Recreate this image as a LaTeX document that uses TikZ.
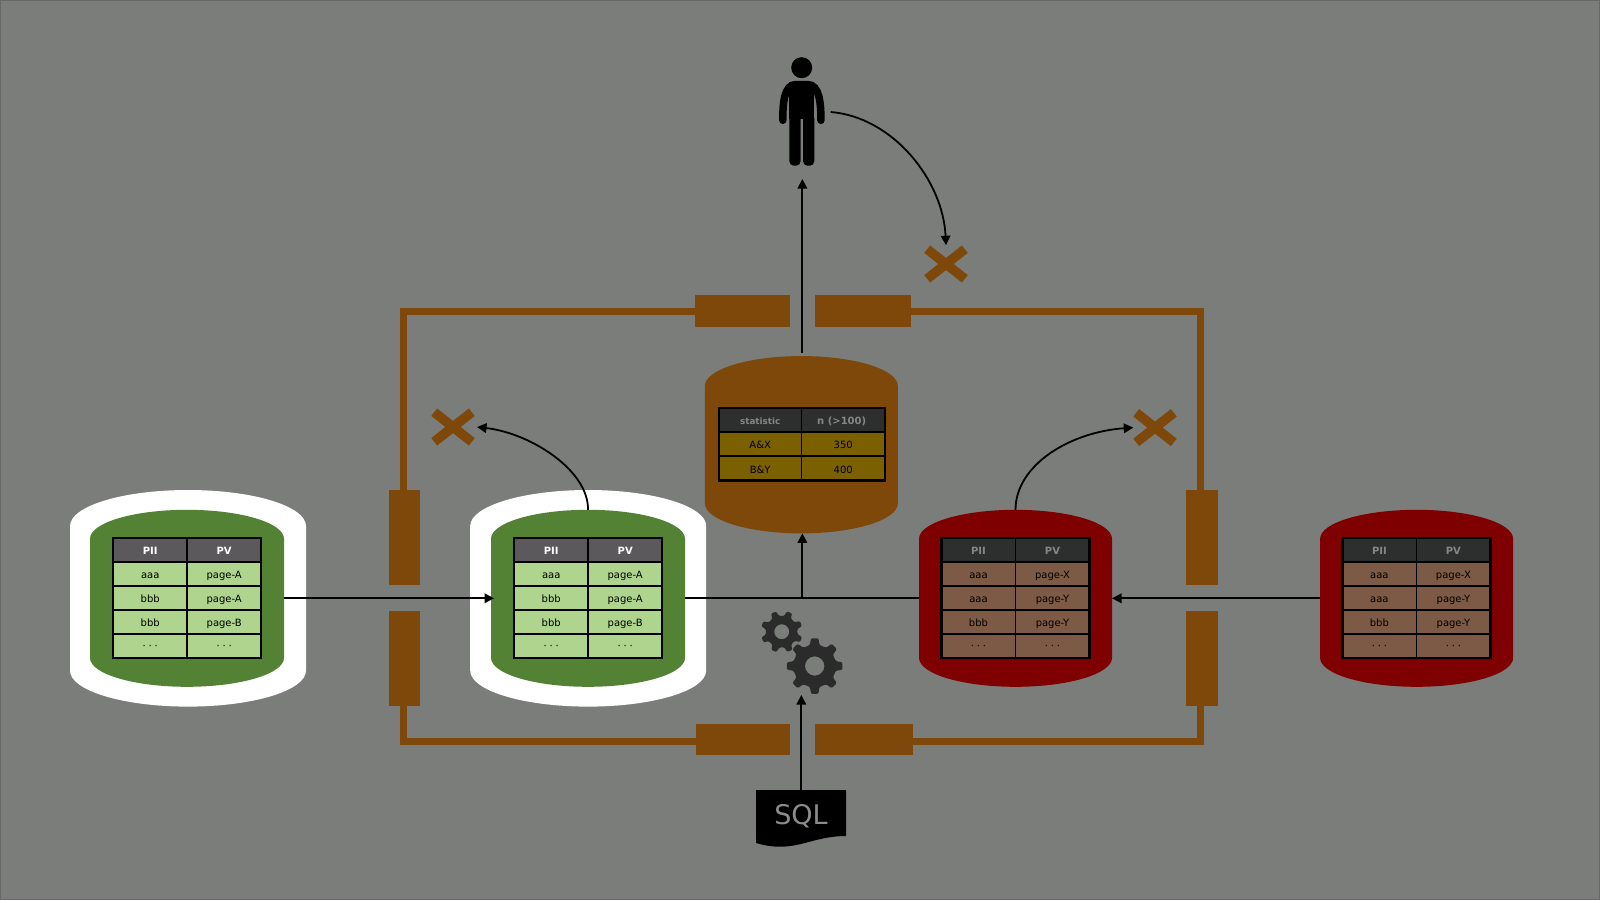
\documentclass[tikz,border=0pt]{standalone}
\usepackage{fontspec}
\setmainfont{DejaVu Sans}
\usetikzlibrary{arrows.meta}
\definecolor{bgc}{HTML}{7B7D7A}
\definecolor{edgec}{HTML}{666865}
\definecolor{brownc}{HTML}{7F480B}
\definecolor{greenc}{HTML}{548235}
\definecolor{redc}{HTML}{7F0000}
\definecolor{rowLc}{HTML}{AED48D}
\definecolor{rowRc}{HTML}{7D5A46}
\definecolor{rowSc}{HTML}{7B6000}
\definecolor{headLc}{HTML}{5B595C}
\definecolor{headDc}{HTML}{2D2F2E}
\definecolor{dimtxt}{HTML}{868686}
\definecolor{gearc}{HTML}{2B2B2B}
\tikzset{
  cellbase/.style={draw=black,line width=1.5pt,inner sep=0pt,outer sep=0pt,align=center,
    minimum width=74pt,minimum height=24pt,text height=9.5pt,text depth=0pt,
    font=\fontsize{10pt}{12pt}\selectfont},
  headL/.style={cellbase,fill=headLc,text=white,font=\fontsize{10pt}{12pt}\selectfont\bfseries},
  headR/.style={cellbase,fill=headDc,text=dimtxt,font=\fontsize{10pt}{12pt}\selectfont\bfseries},
  rowL/.style={cellbase,fill=rowLc,text=black},
  rowR/.style={cellbase,fill=rowRc,text=black},
  rowS/.style={cellbase,fill=rowSc,text=black,minimum width=83pt},
  headS/.style={headR,minimum width=83pt},
  tborder/.style={draw=black,line width=2.3pt},
  barnode/.style={fill=brownc,inner sep=0pt,outer sep=0pt},
  frameline/.style={draw=brownc,line width=7pt,line join=miter},
  crossbox/.style={inner sep=0pt,outer sep=0pt,minimum width=43.4pt,minimum height=37.6pt},
  crossline/.style={draw=brownc,line width=9.5pt},
  arr/.style={draw=black,line width=1.8pt,-{Triangle[length=9.5pt,width=9.5pt]}},
  plainline/.style={draw=black,line width=1.8pt},
  barrelbox/.style={inner sep=0pt,outer sep=0pt},
}
% name, cx, cy, w, h, ry, colour
\newcommand{\barrelshape}[7]{%
  \pgfmathsetmacro\bxl{#2-#4/2}\pgfmathsetmacro\bxr{#2+#4/2}%
  \pgfmathsetmacro\byt{#3-#5/2}\pgfmathsetmacro\byb{#3+#5/2}%
  \pgfmathsetmacro\bya{\byt+#6}\pgfmathsetmacro\byc{\byb-#6}%
  \pgfmathsetmacro\bkx{#4/2*0.5523}\pgfmathsetmacro\bky{#6*0.5523}%
  \fill[#7] (\bxl,\bya) .. controls (\bxl,\bya-\bky) and (#2-\bkx,\byt) .. (#2,\byt)
    .. controls (#2+\bkx,\byt) and (\bxr,\bya-\bky) .. (\bxr,\bya)
    -- (\bxr,\byc) .. controls (\bxr,\byc+\bky) and (#2+\bkx,\byb) .. (#2,\byb)
    .. controls (#2-\bkx,\byb) and (\bxl,\byc+\bky) .. (\bxl,\byc) -- cycle;
  \node[barrelbox,minimum width=#4pt,minimum height=#5pt] (#1) at (#2,#3) {};
}
\newcommand{\dotsrow}{\raisebox{1.3pt}{·\kern2.8pt·\kern2.8pt·}}
% name, cx, style letter, six texts
\newcommand{\dbtable}[9]{%
  \pgfmathsetmacro\tl{#2-37}\pgfmathsetmacro\tr{#2+37}%
  \node[head#3] (#1-h1) at (\tl,550) {PII};
  \node[head#3] (#1-h2) at (\tr,550) {PV};
  \node[row#3] (#1-a1) at (\tl,574) {#4};
  \node[row#3] (#1-a2) at (\tr,574) {#5};
  \node[row#3] (#1-b1) at (\tl,598) {#6};
  \node[row#3] (#1-b2) at (\tr,598) {#7};
  \node[row#3] (#1-c1) at (\tl,622) {#8};
  \node[row#3] (#1-c2) at (\tr,622) {#9};
  \node[row#3] (#1-d1) at (\tl,646) {\dotsrow};
  \node[row#3] (#1-d2) at (\tr,646) {\dotsrow};
  \draw[tborder] (#1-h1.north west) rectangle (#1-d2.south east);
}
% name, cx, cy
\newcommand{\crossmark}[3]{%
  \node[crossbox] (#1) at (#2,#3) {};
  \draw[crossline] ([shift={(-18.8pt,14.8pt)}]#1.center) -- ([shift={(18.8pt,-14.8pt)}]#1.center);
  \draw[crossline] ([shift={(-18.8pt,-14.8pt)}]#1.center) -- ([shift={(18.8pt,14.8pt)}]#1.center);
}
% name, cx, cy, outer, root, hole, rotation
\newcommand{\gearshape}[7]{%
  \begin{scope}[shift={(#2,#3)}]
    \fill[gearc,even odd rule,rounded corners=1.2pt] ({#7-13}:#5)
      \foreach \ga in {0,45,...,315} {
        -- ({#7+\ga-13}:#5) -- ({#7+\ga-7.5}:#4) -- ({#7+\ga+7.5}:#4) -- ({#7+\ga+13}:#5)
      } -- cycle (0,0) circle[radius=#6];
    \node[coordinate] (#1) at (0,0) {};
  \end{scope}
}
\begin{document}
\begin{tikzpicture}[x=1pt,y=-1pt]
\useasboundingbox (0,0) rectangle (1600,900);
\fill[bgc] (0,0) rectangle (1600,900);
\draw[edgec,line width=1pt] (0.5,0.5) rectangle (1599.5,899.5);

% brown guard bars
\node[barnode,minimum width=95pt,minimum height=31.5pt] (barTL) at (742.5,310.75) {};
\node[barnode,minimum width=96pt,minimum height=31.5pt] (barTR) at (863,310.75) {};
\node[barnode,minimum width=94pt,minimum height=31pt] (barBL) at (743,739.5) {};
\node[barnode,minimum width=98pt,minimum height=31pt] (barBR) at (864,739.5) {};
\node[barnode,minimum width=31pt,minimum height=95pt] (barLU) at (404.5,537.5) {};
\node[barnode,minimum width=31pt,minimum height=95pt] (barLD) at (404.5,658.5) {};
\node[barnode,minimum width=32pt,minimum height=95pt] (barRU) at (1202,537.5) {};
\node[barnode,minimum width=32pt,minimum height=95pt] (barRD) at (1202,658.5) {};
\draw[frameline] ([xshift=-1.3pt]barLU.north) |- ([yshift=-1pt]barTL.west);
\draw[frameline] ([xshift=-2pt]barRU.north) |- ([yshift=-1pt]barTR.east);
\draw[frameline] ([xshift=-1.3pt]barLD.south) |- ([yshift=-1.5pt]barBL.west);
\draw[frameline] ([xshift=-2pt]barRD.south) |- ([yshift=-1.5pt]barBR.east);

% databases
\barrelshape{w1}{188}{598.3}{236}{216.6}{36}{white}
\barrelshape{g1}{187}{598.3}{194}{177}{29}{greenc}
\barrelshape{w2}{588.2}{598.3}{236}{216.6}{36}{white}
\barrelshape{g2}{588}{598.3}{194}{177}{29}{greenc}
\barrelshape{r1}{1015.5}{598.3}{193}{177}{29}{redc}
\barrelshape{r2}{1416.6}{598.3}{193}{177}{29}{redc}
\barrelshape{stat}{801.35}{444.7}{193}{177.3}{30}{brownc}

\dbtable{t1}{187.2}{L}{aaa}{page-A}{bbb}{page-A}{bbb}{page-B}
\dbtable{t2}{588.2}{L}{aaa}{page-A}{bbb}{page-A}{bbb}{page-B}
\dbtable{t3}{1015.5}{R}{aaa}{page-X}{aaa}{page-Y}{bbb}{page-Y}
\dbtable{t4}{1416.4}{R}{aaa}{page-X}{aaa}{page-Y}{bbb}{page-Y}

% statistics table
\node[headS,font=\fontsize{8.8pt}{12pt}\selectfont\bfseries] (s-h1) at (760.2,420) {statistic};
\node[headS] (s-h2) at (843.2,420) {\kern-3pt n (>100)};
\node[rowS] (s-a1) at (760.2,444) {A\&X};
\node[rowS] (s-a2) at (843.2,444) {350};
\node[rowS] (s-b1) at (760.2,468.5) {B\&Y};
\node[rowS] (s-b2) at (843.2,468.5) {400};
\draw[tborder] (s-h1.north west) rectangle (s-b2.south east);

% crosses
\crossmark{x1}{946}{264}
\crossmark{x2}{453}{427}
\crossmark{x3}{1155}{427.6}

% person
\begin{scope}
  \fill[black] (801.7,67.7) circle[radius=10.5];
  \draw[black,line width=7.5pt,line cap=round] (782.8,120.3) .. controls (782.8,105) and (783.5,84.5) .. (796,84.5) -- (807.5,84.5) .. controls (820,84.5) and (820.9,105) .. (820.9,120.3);
  \fill[black] (789.3,82) rectangle (814.3,119);
  \fill[black,rounded corners=4.5pt] (789.3,114) rectangle (800.6,165.7);
  \fill[black,rounded corners=4.5pt] (803,114) rectangle (814.3,165.7);
  \node[inner sep=0pt,outer sep=0pt,minimum width=46pt,minimum height=110pt] (person) at (801.7,112) {};
\end{scope}
\coordinate (pfoot) at (802.35,179);

% gears
\gearshape{gsmall}{781.7}{631.7}{21}{16}{7.5}{22}
\gearshape{gbig}{814.7}{666}{28}{21.5}{9.7}{0}
\coordinate (gearin) at (801.3,695);

% SQL document
\fill[black] (756,790) -- (846,790) -- (846,836) .. controls (818,836) and (803,846.7) .. (780,846.7) .. controls (770,846.7) and (763,845) .. (756,843) -- cycle;
\node[inner sep=0pt,outer sep=0pt,minimum width=90pt,minimum height=48pt,text height=20pt,text depth=0pt,text=dimtxt!95!white,font=\fontsize{27pt}{30pt}\selectfont] (sql) at (801,814) {SQL};

% connectors
\draw[arr] (g1.east) -- ([xshift=3pt]g2.west);
\draw[plainline] (g2.east) -- (r1.west);
\draw[arr] (r2.west) -- (r1.east);
\coordinate (junction) at (pfoot |- g2.east);
\draw[arr,line width=2.2pt] (junction) -- (pfoot |- stat.south);
\draw[arr] ([yshift=3pt]pfoot |- stat.north) -- (pfoot);
\draw[arr] (sql.north -| gearin) -- (gearin);
\draw[arr] ([xshift=6pt]person.east) .. controls +(62,5) and (943,180) .. (x1.north);
\draw[arr] (g2.north) .. controls (588.7,470) and (530,433) .. ([xshift=2.3pt]x2.east);
\draw[arr] (r1.north) .. controls (1015.5,465) and (1070,432) .. (x3.west);
\end{tikzpicture}
\end{document}
